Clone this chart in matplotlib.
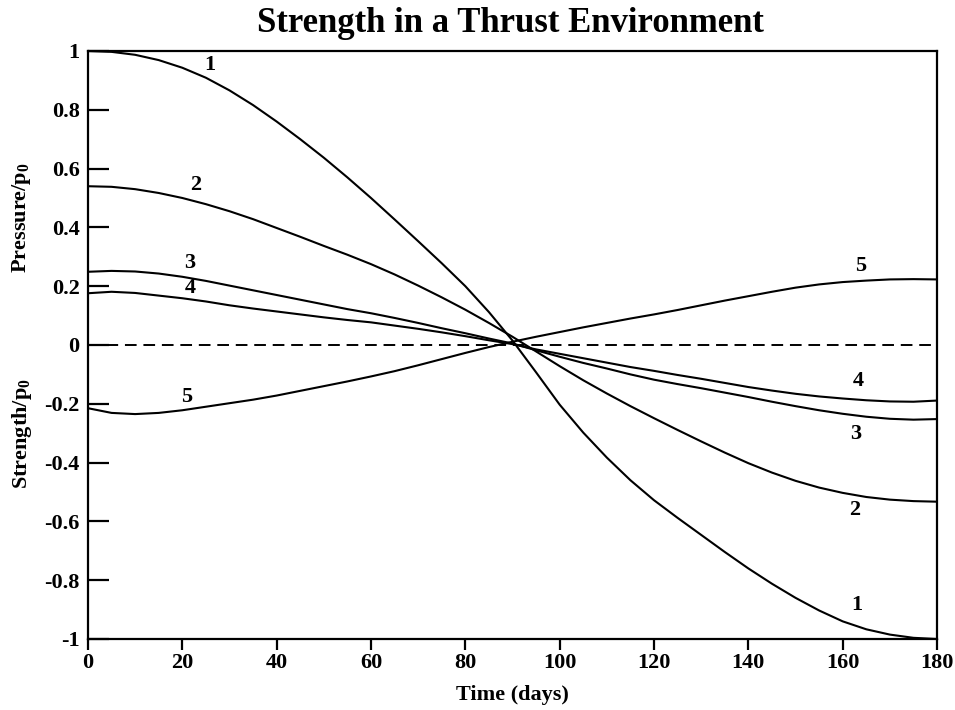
import matplotlib
matplotlib.use("Agg")
import matplotlib.pyplot as plt
from matplotlib.ticker import FuncFormatter

plt.rcParams['font.family'] = ['Liberation Serif', 'DejaVu Serif']
plt.rcParams['font.weight'] = 'bold'
plt.rcParams['mathtext.fontset'] = 'custom'
plt.rcParams['mathtext.rm'] = 'Liberation Serif:bold'
plt.rcParams['mathtext.it'] = 'Liberation Serif:bold'
plt.rcParams['mathtext.bf'] = 'Liberation Serif:bold'

days = list(range(0, 181, 5))

curve1 = [1.000, 0.997, 0.987, 0.969, 0.943, 0.909, 0.866, 0.816, 0.760, 0.700,
          0.637, 0.570, 0.500, 0.427, 0.353, 0.278, 0.200, 0.112, 0.015, -0.093,
          -0.203, -0.298, -0.383, -0.460, -0.528, -0.588, -0.646, -0.704, -0.760,
          -0.812, -0.860, -0.903, -0.940, -0.967, -0.985, -0.996, -1.000]
curve2 = [0.540, 0.538, 0.530, 0.517, 0.500, 0.479, 0.455, 0.428, 0.398, 0.368,
          0.337, 0.307, 0.275, 0.240, 0.202, 0.162, 0.120, 0.075, 0.028, -0.022,
          -0.072, -0.120, -0.165, -0.208, -0.249, -0.289, -0.328, -0.366, -0.402,
          -0.434, -0.462, -0.485, -0.503, -0.517, -0.526, -0.531, -0.533]
curve3 = [0.249, 0.252, 0.250, 0.243, 0.232, 0.218, 0.202, 0.186, 0.170, 0.154,
          0.138, 0.122, 0.108, 0.092, 0.075, 0.057, 0.040, 0.022, 0.005, -0.018,
          -0.040, -0.061, -0.080, -0.100, -0.118, -0.133, -0.147, -0.162, -0.177,
          -0.193, -0.208, -0.222, -0.234, -0.244, -0.251, -0.254, -0.252]
curve4 = [0.176, 0.181, 0.177, 0.168, 0.159, 0.148, 0.135, 0.124, 0.114, 0.104,
          0.094, 0.085, 0.077, 0.066, 0.055, 0.043, 0.030, 0.016, 0.003, -0.015,
          -0.030, -0.045, -0.060, -0.075, -0.088, -0.102, -0.115, -0.129, -0.143,
          -0.155, -0.166, -0.175, -0.182, -0.188, -0.192, -0.193, -0.189]
curve5 = [-0.215, -0.231, -0.235, -0.231, -0.222, -0.210, -0.198, -0.186, -0.172, -0.156,
          -0.140, -0.124, -0.107, -0.089, -0.069, -0.048, -0.027, -0.007, 0.011, 0.028,
          0.044, 0.060, 0.075, 0.090, 0.104, 0.119, 0.135, 0.151, 0.166,
          0.181, 0.195, 0.206, 0.214, 0.219, 0.223, 0.224, 0.223]

curves = [curve1, curve2, curve3, curve4, curve5]
curve_names = ["1", "2", "3", "4", "5"]
label_left = [(25.9, 0.952), (22.9, 0.544), (21.6, 0.279), (21.6, 0.194), (21.0, -0.177)]
label_right = [(163.0, -0.884), (162.6, -0.561), (162.8, -0.303), (163.2, -0.122), (163.7, 0.269)]

xticks = [0, 20, 40, 60, 80, 100, 120, 140, 160, 180]
yticks = [-1, -0.8, -0.6, -0.4, -0.2, 0, 0.2, 0.4, 0.6, 0.8, 1]

fig = plt.figure(figsize=(9.55, 7.1), dpi=100)
ax = fig.add_axes([0.0921, 0.1, 0.9812 - 0.0921, 0.9282 - 0.1])

for c in curves:
    ax.plot(days, c, color='black', lw=1.5, solid_capstyle='round', solid_joinstyle='round')
ax.plot([0, 180], [0, 0], color='black', lw=1.4, dashes=(6, 3.5))

for name, (x, y) in zip(curve_names, label_left):
    ax.text(x, y, name, ha='center', va='center', fontsize=16, fontweight='bold')
for name, (x, y) in zip(curve_names, label_right):
    ax.text(x, y, name, ha='center', va='center', fontsize=16, fontweight='bold')

ax.set_xlim(0, 180)
ax.set_ylim(-1, 1)
ax.set_xticks(xticks)
ax.set_yticks(yticks)

def yfmt(v, pos):
    if abs(v - round(v)) < 1e-9:
        s = "%d" % round(v)
    else:
        s = ("%.1f" % v)
    return s.replace("\u2212", "-")

ax.yaxis.set_major_formatter(FuncFormatter(yfmt))
ax.tick_params(axis='y', direction='in', length=15, width=1.6, labelsize=16, pad=6)
ax.tick_params(axis='x', direction='out', length=8, width=1.6, labelsize=16, pad=2)
for lbl in ax.get_xticklabels() + ax.get_yticklabels():
    lbl.set_fontweight('bold')
for sp in ax.spines.values():
    sp.set_linewidth(1.6)

fig.text(0.534, 0.967, "Strength in a Thrust Environment", ha='center', va='center',
         fontsize=25, fontweight='bold')
ax.set_xlabel("Time (days)", fontsize=16, fontweight='bold', labelpad=9)
fig.text(0.023, 1 - 218 / 710, "Pressure/p$_0$", rotation=90, ha='center', va='center',
         fontsize=16, fontweight='bold')
fig.text(0.023, 1 - 434 / 710, "Strength/p$_0$", rotation=90, ha='center', va='center',
         fontsize=16, fontweight='bold')

fig.savefig("out.png", dpi=100)
